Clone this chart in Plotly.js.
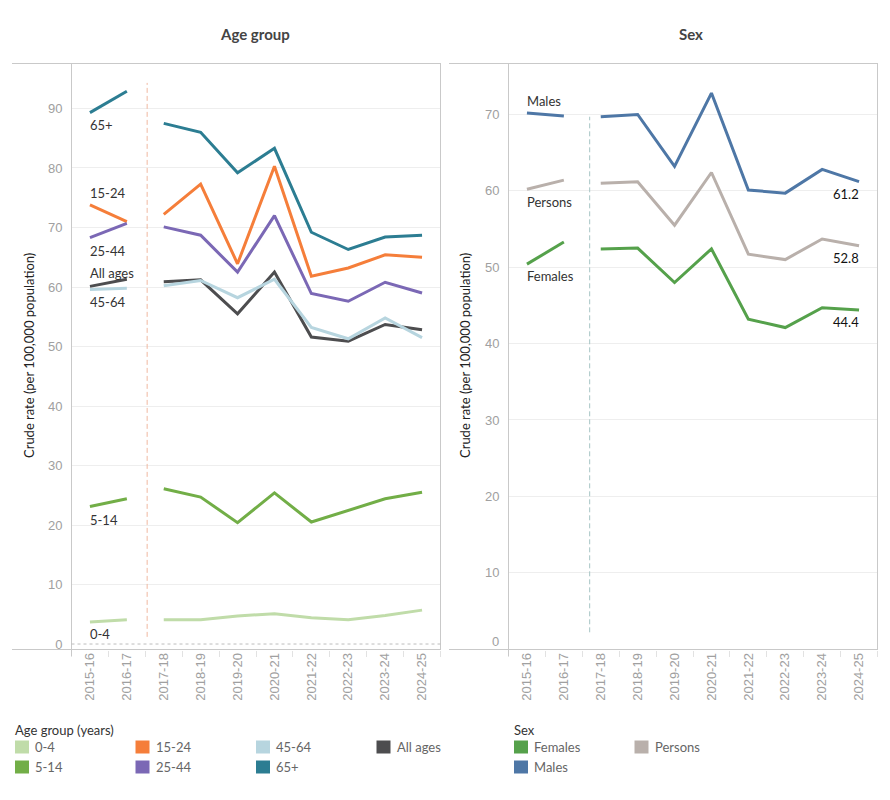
<!DOCTYPE html>
<html>
<head>
<meta charset="utf-8">
<script src="https://cdn.plot.ly/plotly-3.0.1.min.js"></script>
<style>
  html, body { margin: 0; padding: 0; background: #ffffff; }
  #chart { width: 890px; height: 800px; }
</style>
</head>
<body>
<div id="chart"></div>
<script>
// Financial years on the horizontal axis
const years = ['2015-16', '2016-17', '2017-18', '2018-19', '2019-20',
               '2020-21', '2021-22', '2022-23', '2023-24', '2024-25'];

// Crude rate (per 100,000 population) by age group
const age0to4   = [3.7, 4.1, 4.1, 4.1, 4.7, 5.1, 4.4, 4.1, 4.8, 5.7];
const age5to14  = [23.1, 24.4, 26.1, 24.7, 20.4, 25.4, 20.5, 22.5, 24.4, 25.5];
const age15to24 = [73.8, 71.0, 72.2, 77.3, 63.9, 80.3, 61.8, 63.2, 65.4, 65.0];
const age25to44 = [68.3, 70.7, 70.1, 68.7, 62.5, 72.0, 58.9, 57.6, 60.8, 59.0];
const age45to64 = [59.6, 59.8, 60.2, 61.1, 58.2, 61.3, 53.2, 51.3, 54.8, 51.5];
const age65plus = [89.3, 92.9, 87.5, 86.0, 79.2, 83.3, 69.2, 66.3, 68.4, 68.7];
const ageAll    = [60.1, 61.3, 60.9, 61.2, 55.5, 62.5, 51.6, 50.9, 53.7, 52.8];

// Crude rate (per 100,000 population) by sex
const males   = [70.2, 69.8, 69.7, 70.0, 63.2, 72.8, 60.1, 59.7, 62.8, 61.2];
const persons = [60.2, 61.4, 61.0, 61.2, 55.5, 62.4, 51.7, 51.0, 53.7, 52.8];
const females = [50.4, 53.3, 52.4, 52.5, 48.0, 52.4, 43.2, 42.1, 44.7, 44.4];

// Series names and axis ticks
const ageNames = ['0-4', '5-14', '15-24', '25-44', '45-64', '65+', 'All ages'];
const sexNames = ['Females', 'Males', 'Persons'];
const ageTicks = [0, 10, 20, 30, 40, 50, 60, 70, 80, 90];
const sexTicks = [0, 10, 20, 30, 40, 50, 60, 70];

// ---- styling -------------------------------------------------------------
const W = 890, H = 800;
const px = x => x / W;          // pixel -> paper x
const py = y => 1 - y / H;      // pixel -> paper y

const AXIS_GREY = '#c9c9c9';
const GRID_GREY = '#eeeeee';
const TICK_FONT = { family: 'Liberation Sans, Arial, sans-serif', size: 13, color: '#a0a0a0' };
const TEXT_FONT = 'Lato, "Noto Sans", sans-serif';

const ageColors = {
  '0-4': '#c0dca9', '5-14': '#72ae47', '15-24': '#f57e3a', '25-44': '#7b68b5',
  '45-64': '#b7d5df', '65+': '#2c7d92', 'All ages': '#4d4d4f'
};
const sexColors = { 'Females': '#55a14b', 'Males': '#4e77a6', 'Persons': '#b9b0ab' };

// drawing order (later on top) and the direct-label offset in pixels
const ageSeries = [
  { name: 'All ages', values: ageAll,    shift: 13 },
  { name: '0-4',      values: age0to4,   shift: -12 },
  { name: '5-14',     values: age5to14,  shift: -13 },
  { name: '15-24',    values: age15to24, shift: 12 },
  { name: '25-44',    values: age25to44, shift: -13 },
  { name: '45-64',    values: age45to64, shift: -13 },
  { name: '65+',      values: age65plus, shift: -12 }
];
const sexSeries = [
  { name: 'Males',   values: males,   shift: 12 },
  { name: 'Persons', values: persons, shift: -13 },
  { name: 'Females', values: females, shift: -12 }
];

// The series break between 2016-17 and 2017-18, so each one is drawn in two pieces
const BREAK = 2;
const traces = [];
function addSeries(s, color, xa, ya) {
  [[0, BREAK], [BREAK, years.length]].forEach(([a, b]) => {
    traces.push({
      type: 'scatter', mode: 'lines',
      x: years.slice(a, b), y: s.values.slice(a, b),
      xaxis: xa, yaxis: ya,
      line: { color: color, width: 3 },
      hoverinfo: 'x+y', name: s.name, showlegend: false
    });
  });
}
ageSeries.forEach(s => addSeries(s, ageColors[s.name], 'x', 'y'));
sexSeries.forEach(s => addSeries(s, sexColors[s.name], 'x2', 'y2'));

// ---- annotations ---------------------------------------------------------
const annotations = [];
function seriesLabel(s, xa, ya) {
  annotations.push({
    xref: xa, yref: ya, x: years[0], y: s.values[0],
    text: s.name, showarrow: false, xanchor: 'left', yanchor: 'middle',
    xshift: -2, yshift: s.shift,
    font: { family: TEXT_FONT, size: 13, color: '#333333' }
  });
}
ageSeries.forEach(s => seriesLabel(s, 'x', 'y'));
sexSeries.forEach(s => seriesLabel(s, 'x2', 'y2'));

// latest value printed under each sex series
sexSeries.forEach(s => {
  const last = s.values[s.values.length - 1];
  annotations.push({
    xref: 'x2', yref: 'y2', x: years[years.length - 1], y: last,
    text: last.toFixed(1), showarrow: false, xanchor: 'right', yanchor: 'middle',
    xshift: 2, yshift: -12,
    font: { family: TEXT_FONT, size: 13, color: '#111111' }
  });
});

// the sex chart's zero sits on the axis line, so its label is lifted inside the frame
annotations.push({
  xref: 'x2 domain', yref: 'y2', x: 0, y: sexTicks[0], text: String(sexTicks[0]),
  showarrow: false, xanchor: 'right', yanchor: 'middle', xshift: -8, yshift: 8,
  font: TICK_FONT
});

// panel titles
[['Age group', 255], ['Sex', 691]].forEach(([t, x]) => {
  annotations.push({
    xref: 'paper', yref: 'paper', x: px(x), y: py(34), text: '<b>' + t + '</b>',
    showarrow: false, xanchor: 'center', yanchor: 'middle',
    font: { family: TEXT_FONT, size: 15, color: '#444444' }
  });
});

// vertical axis titles
[29, 465].forEach(x => {
  annotations.push({
    xref: 'paper', yref: 'paper', x: px(x), y: py(356),
    text: 'Crude rate (per 100,000 population)', textangle: -90,
    showarrow: false, xanchor: 'center', yanchor: 'middle',
    font: { family: TEXT_FONT, size: 13, color: '#222222' }
  });
});

// ---- shapes: panel frames, reference lines --------------------------------
const shapes = [];
function hline(y, x0, x1, color, dash) {
  shapes.push({ type: 'line', xref: 'paper', yref: 'paper', x0: px(x0), x1: px(x1),
    y0: py(y), y1: py(y), line: { color: color, width: 1, dash: dash || 'solid' } });
}
function vline(x, y0, y1, color) {
  shapes.push({ type: 'line', xref: 'paper', yref: 'paper', x0: px(x), x1: px(x),
    y0: py(y0), y1: py(y1), line: { color: color, width: 1 } });
}
// left panel
hline(63.5, 12, 441, AXIS_GREY);
hline(649.5, 12, 441, AXIS_GREY);
vline(71.5, 63, 656, AXIS_GREY);
vline(440.5, 63, 650, AXIS_GREY);
// right panel
hline(63.5, 449, 877.5, AXIS_GREY);
hline(649.5, 449, 877.5, AXIS_GREY);
vline(508.5, 63, 656, AXIS_GREY);
vline(877.5, 63, 650, AXIS_GREY);

// dotted zero line on the age chart
shapes.push({ type: 'line', xref: 'x domain', yref: 'y', x0: 0, x1: 1, y0: 0, y1: 0,
  line: { color: '#bdbdbd', width: 1, dash: 'dot' } });

// dashed breaks in the series
shapes.push({ type: 'line', xref: 'x', yref: 'y', x0: 1.55, x1: 1.55, y0: 1.2, y1: 94.3,
  line: { color: '#f0b8a0', width: 1, dash: '5px,3px' } });
shapes.push({ type: 'line', xref: 'x2', yref: 'y2', x0: 1.70, x1: 1.70, y0: 2.2, y1: 69.7,
  line: { color: '#a6c4c4', width: 1, dash: '5px,3px' } });

// ---- custom legends --------------------------------------------------------
function legend(title, names, colors, x0, y0) {
  annotations.push({
    xref: 'paper', yref: 'paper', x: px(x0 - 2), y: py(y0), text: title,
    showarrow: false, xanchor: 'left', yanchor: 'middle',
    font: { family: TEXT_FONT, size: 13, color: '#333333' }
  });
  names.forEach((n, i) => {
    const col = Math.floor(i / 2), row = i % 2;
    const sx = x0 + col * 120.5;
    const cy = y0 + 17 + row * 20;
    shapes.push({ type: 'rect', xref: 'paper', yref: 'paper',
      x0: px(sx), x1: px(sx + 14), y0: py(cy - 6.5), y1: py(cy + 6.5),
      fillcolor: colors[n], line: { width: 0 } });
    annotations.push({
      xref: 'paper', yref: 'paper', x: px(sx + 18), y: py(cy), text: n,
      showarrow: false, xanchor: 'left', yanchor: 'middle',
      font: { family: TEXT_FONT, size: 13, color: '#666666' }
    });
  });
}
legend('Age group (years)', ageNames, ageColors, 15, 730);
legend('Sex', sexNames, sexColors, 514, 730);

// ---- axes ----------------------------------------------------------------
function xAxis(x0, x1) {
  return {
    domain: [px(x0), px(x1)], type: 'category', categoryarray: years,
    range: [-0.5, years.length - 0.5], fixedrange: true,
    tickangle: -90, tickfont: TICK_FONT, ticks: 'outside', tickson: 'boundaries',
    ticklen: 6, tickcolor: '#e2e2e2', showgrid: false, showline: false, zeroline: false
  };
}
function yAxis(lo, hi, tickvals, ticktext, anchor) {
  return {
    domain: [py(649.5), py(63.5)], range: [lo, hi], anchor: anchor,
    tickvals: tickvals, ticktext: ticktext, tickfont: TICK_FONT, ticks: '', ticklabelstandoff: 8,
    showgrid: true, gridcolor: GRID_GREY, gridwidth: 1,
    zeroline: true, zerolinecolor: 'rgba(0,0,0,0)',
    showline: false, fixedrange: true
  };
}

const layout = {
  width: W, height: H,
  margin: { l: 0, r: 0, t: 0, b: 0 },
  paper_bgcolor: '#ffffff', plot_bgcolor: '#ffffff',
  showlegend: false,
  xaxis: Object.assign(xAxis(71.5, 440.5), { anchor: 'y' }),
  yaxis: yAxis(-0.92, 97.56, ageTicks, ageTicks.map(String), 'x'),
  xaxis2: Object.assign(xAxis(508.5, 877.5), { anchor: 'y2' }),
  yaxis2: yAxis(-0.05, 76.67, sexTicks, sexTicks.map(v => v === 0 ? '' : String(v)), 'x2'),
  shapes: shapes,
  annotations: annotations
};

Plotly.newPlot('chart', traces, layout, { displayModeBar: false, staticPlot: true });
</script>
</body>
</html>
